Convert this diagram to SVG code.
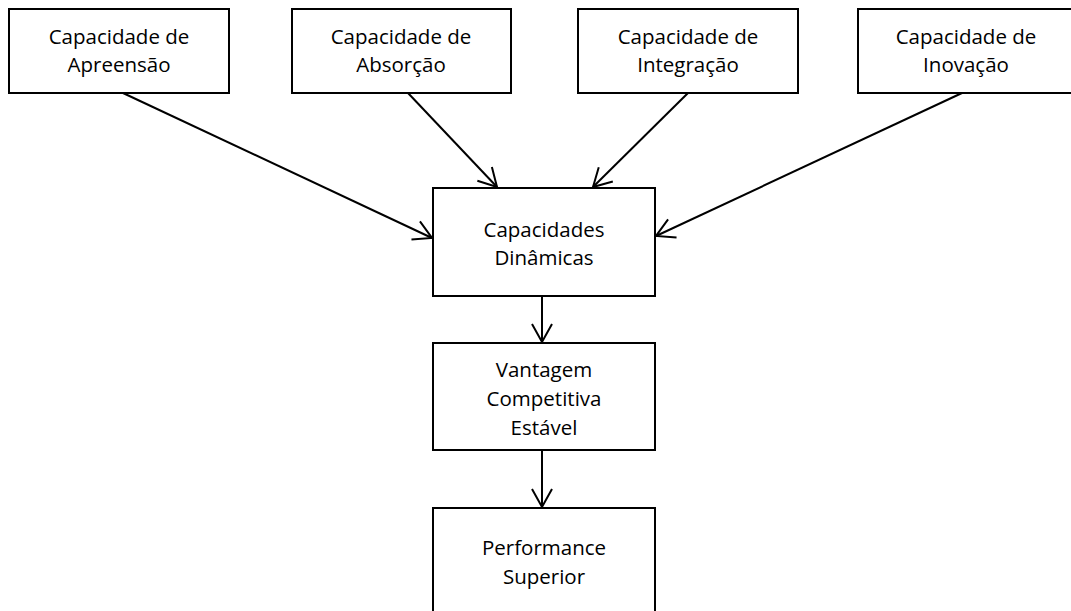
<svg xmlns="http://www.w3.org/2000/svg" width="1071" height="611" viewBox="0 0 1071 611">
<style>
.box{fill:#fff;stroke:#000;stroke-width:2}
.t{font-family:"Open Sans","Noto Sans","Liberation Sans",sans-serif;font-size:20.5px;fill:#000;text-anchor:middle}
.c{stroke:#000;stroke-width:2;fill:none;marker-end:url(#ah)}
</style>
<defs>
<marker id="ah" markerUnits="userSpaceOnUse" markerWidth="24" markerHeight="24" viewBox="-20 -12 24 24" refX="0" refY="0" orient="auto">
<path d="M-18,-10 L0,0 L-18,10" fill="none" stroke="#000" stroke-width="2"/>
</marker>
</defs>
<rect width="1071" height="611" fill="#fff"/>
<g id="n1"><rect class="box" x="9" y="9" width="220" height="84"/><text class="t" x="119" y="44">Capacidade de</text><text class="t" x="119" y="72">Apreensão</text></g>
<g id="n2"><rect class="box" x="292" y="9" width="219" height="84"/><text class="t" x="401" y="44">Capacidade de</text><text class="t" x="401" y="72">Absorção</text></g>
<g id="n3"><rect class="box" x="578" y="9" width="220" height="84"/><text class="t" x="688" y="44">Capacidade de</text><text class="t" x="688" y="72">Integração</text></g>
<g id="n4"><rect class="box" x="858" y="9" width="220" height="84"/><text class="t" x="966" y="44">Capacidade de</text><text class="t" x="966" y="72">Inovação</text></g>
<g id="n5"><rect class="box" x="433" y="188" width="222" height="108"/><text class="t" x="544" y="237">Capacidades</text><text class="t" x="544" y="265">Dinâmicas</text></g>
<g id="n6"><rect class="box" x="433" y="343" width="222" height="107"/><text class="t" x="544" y="377">Vantagem</text><text class="t" x="544" y="406">Competitiva</text><text class="t" x="544" y="435">Estável</text></g>
<g id="n7"><rect class="box" x="433" y="508" width="222" height="110"/><text class="t" x="544" y="555">Performance</text><text class="t" x="544" y="584">Superior</text></g>
<g id="connectors">
<line class="c" x1="123" y1="93" x2="432" y2="238"/>
<line class="c" x1="408" y1="93" x2="497" y2="187"/>
<line class="c" x1="688" y1="93" x2="593" y2="187"/>
<line class="c" x1="962" y1="93" x2="656" y2="236"/>
<line class="c" x1="542" y1="296" x2="542" y2="342"/>
<line class="c" x1="542" y1="450" x2="542" y2="507"/>
</g>
</svg>
